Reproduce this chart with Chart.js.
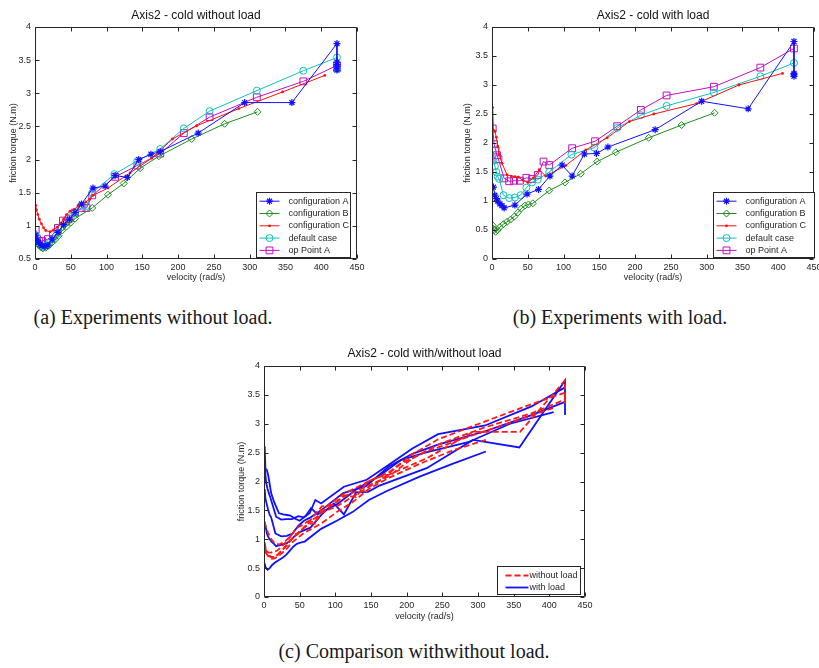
<!DOCTYPE html>
<html>
<head>
<meta charset="utf-8">
<script src="https://cdn.jsdelivr.net/npm/chart.js@4.4.1/dist/chart.umd.min.js"></script>
<style>
  html, body { margin: 0; padding: 0; background: #fff; overflow: hidden; }
  body { width: 819px; height: 668px; position: relative; }
  .plot { position: absolute; }
  .cap {
    position: absolute;
    font-family: "Liberation Serif", "DejaVu Serif", serif;
    font-size: 20px;
    color: #1a1a1a;
    white-space: nowrap;
    transform: translateX(-50%);
  }
</style>
</head>
<body>
<div class="plot" style="left:0;top:0;width:370px;height:295px"><canvas id="chartA"></canvas></div>
<div class="plot" style="left:455px;top:0;width:375px;height:295px"><canvas id="chartB"></canvas></div>
<div class="plot" style="left:228px;top:330px;width:370px;height:295px"><canvas id="chartC"></canvas></div>
<div class="cap" style="left:153px;top:306px">(a) Experiments without load.</div>
<div class="cap" style="left:620px;top:306px">(b) Experiments with load.</div>
<div class="cap" style="left:414px;top:640px">(c) Comparison withwithout load.</div>

<script>
// ---- data: velocity (rad/s) / friction torque (N.m) ----
const seriesNames = ["configuration A", "configuration B", "configuration C", "default case", "op Point A"];
const velocityTicks = [0, 50, 100, 150, 200, 250, 300, 350, 400, 450];

// without load
const noLoadAx = [1, 3, 5, 7, 10, 14, 18, 24, 32, 40, 48, 56, 65, 81, 98, 112, 129, 145, 162, 175, 228, 293, 359, 422, 422, 422, 422, 422];
const noLoadAy = [0.86, 0.79, 0.75, 0.72, 0.70, 0.69, 0.71, 0.80, 0.90, 1.02, 1.10, 1.20, 1.33, 1.57, 1.60, 1.76, 1.73, 2.00, 2.08, 2.12, 2.40, 2.86, 2.86, 3.75, 3.47, 3.43, 3.40, 3.35];
const noLoadBx = [2, 5, 8, 11, 15, 19, 23, 28, 33, 38, 44, 50, 56, 80, 102, 124, 147, 173, 219, 265, 311];
const noLoadBy = [0.78, 0.72, 0.68, 0.66, 0.67, 0.70, 0.74, 0.79, 0.85, 0.93, 0.99, 1.05, 1.11, 1.27, 1.47, 1.64, 1.87, 2.05, 2.31, 2.54, 2.72];
const noLoadCx = [1, 2, 4, 6, 9, 12, 15, 21, 26, 31, 36, 40, 44, 49, 55, 60, 66, 71, 76, 81, 102, 133, 163, 192, 226, 285, 346, 405];
const noLoadCy = [1.31, 1.24, 1.17, 1.10, 1.03, 0.97, 0.93, 0.91, 0.94, 0.98, 1.04, 1.10, 1.17, 1.22, 1.25, 1.30, 1.34, 1.36, 1.40, 1.46, 1.57, 1.80, 2.02, 2.31, 2.51, 2.77, 3.02, 3.27];
const noLoadDx = [1, 3, 5, 8, 11, 15, 20, 25, 31, 37, 44, 50, 56, 64, 72, 80, 111, 143, 175, 208, 244, 310, 375, 422, 422];
const noLoadDy = [0.86, 0.78, 0.73, 0.70, 0.68, 0.70, 0.74, 0.80, 0.88, 0.98, 1.06, 1.13, 1.20, 1.30, 1.30, 1.50, 1.78, 1.98, 2.16, 2.47, 2.73, 3.04, 3.34, 3.54, 3.37];
const noLoadEx = [1, 3, 6, 10, 18, 25, 32, 39, 47, 56, 65, 72, 80, 112, 143, 175, 208, 244, 310, 375, 422, 422];
const noLoadEy = [0.94, 0.80, 0.77, 0.77, 0.80, 0.87, 0.97, 1.08, 1.10, 1.20, 1.27, 1.27, 1.46, 1.74, 1.91, 2.09, 2.40, 2.64, 2.94, 3.18, 3.42, 3.38];

// with load
const loadAx = [2, 4, 6, 8, 11, 14, 17, 32, 49, 65, 81, 98, 112, 129, 146, 162, 228, 293, 358, 422, 422, 422, 422];
const loadAy = [1.24, 1.10, 1.04, 1.00, 0.95, 0.92, 0.88, 0.93, 1.12, 1.20, 1.43, 1.62, 1.43, 1.81, 1.82, 1.93, 2.23, 2.72, 2.59, 3.75, 3.20, 3.18, 3.15];
const loadBx = [1, 2, 3, 5, 8, 11, 16, 21, 26, 31, 36, 41, 46, 51, 57, 80, 102, 124, 147, 173, 219, 265, 311];
const loadBy = [0.58, 0.52, 0.50, 0.47, 0.50, 0.55, 0.60, 0.64, 0.68, 0.73, 0.80, 0.87, 0.92, 0.94, 0.96, 1.18, 1.32, 1.47, 1.68, 1.84, 2.09, 2.31, 2.52];
const loadCx = [1, 2, 4, 6, 8, 10, 14, 21, 27, 32, 37, 43, 50, 58, 66, 75, 103, 131, 161, 192, 226, 286, 345, 406];
const loadCy = [2.61, 2.22, 2.20, 2.10, 1.95, 1.80, 1.65, 1.45, 1.43, 1.42, 1.41, 1.36, 1.32, 1.40, 1.54, 1.43, 1.61, 1.88, 2.09, 2.37, 2.50, 2.68, 3.00, 3.20];
const loadDx = [1, 2, 4, 6, 8, 10, 16, 24, 32, 40, 48, 56, 64, 80, 111, 143, 175, 208, 244, 310, 375, 422];
const loadDy = [1.87, 1.70, 1.60, 1.50, 1.42, 1.38, 1.10, 1.05, 1.06, 1.10, 1.23, 1.32, 1.37, 1.50, 1.80, 1.92, 2.26, 2.48, 2.64, 2.87, 3.15, 3.38];
const loadEx = [1, 3, 5, 7, 9, 17, 24, 31, 39, 48, 56, 64, 72, 80, 112, 144, 175, 208, 244, 310, 375, 422];
const loadEy = [2.25, 1.98, 1.87, 1.79, 1.72, 1.39, 1.34, 1.35, 1.35, 1.40, 1.38, 1.45, 1.68, 1.62, 1.91, 2.03, 2.29, 2.57, 2.82, 2.97, 3.30, 3.63];

const noLoadX = [noLoadAx, noLoadBx, noLoadCx, noLoadDx, noLoadEx];
const noLoadY = [noLoadAy, noLoadBy, noLoadCy, noLoadDy, noLoadEy];
const loadX = [loadAx, loadBx, loadCx, loadDx, loadEx];
const loadY = [loadAy, loadBy, loadCy, loadDy, loadEy];

// matlab-ish line/marker styles per series
const styles = [
  { color: "#1010ff", pointStyle: "star", radius: 3.5, fill: "transparent", bw: 1.2 },
  { color: "#1e8c1e", pointStyle: "rectRot", radius: 3.5, fill: "transparent", bw: 1 },
  { color: "#ff1010", pointStyle: "circle", radius: 1.4, fill: "#ff1010", bw: 0 },
  { color: "#10c0c0", pointStyle: "circle", radius: 3.5, fill: "transparent", bw: 1 },
  { color: "#c010c0", pointStyle: "rect", radius: 4.8, fill: "transparent", bw: 1 }
];

const FONT = '"Liberation Sans", Arial, sans-serif';
const INK = "#262626";

function points(xs, ys) {
  return xs.map((x, i) => ({ x: x, y: ys[i] }));
}

function markerSets(xsList, ysList) {
  return xsList.map((xs, i) => ({
    label: seriesNames[i],
    data: points(xs, ysList[i]),
    showLine: true,
    borderColor: styles[i].color,
    borderWidth: 1,
    pointStyle: styles[i].pointStyle,
    pointRadius: styles[i].radius,
    pointBorderWidth: styles[i].bw,
    pointBorderColor: styles[i].color,
    pointBackgroundColor: styles[i].fill
  }));
}

function plainSets(xsList, ysList, label, color, dash) {
  return xsList.map((xs, i) => ({
    label: i === 0 ? label : "",
    data: points(xs, ysList[i]),
    showLine: true,
    borderColor: color,
    borderWidth: 1.8,
    borderDash: dash,
    pointRadius: 0
  }));
}

// box around the axes with inward tick marks (matlab style)
const frameTicks = {
  id: "frameTicks",
  afterDatasetsDraw(chart) {
    const { ctx, chartArea: a, scales } = chart;
    const L = Math.round(a.left) + 0.5, R = Math.round(a.right) - 0.5;
    const T = Math.round(a.top) + 0.5, B = Math.round(a.bottom) - 0.5;
    ctx.save();
    ctx.strokeStyle = INK;
    ctx.lineWidth = 1;
    ctx.beginPath();
    ctx.rect(L, T, R - L, B - T);
    scales.x.ticks.forEach(t => {
      const px = Math.round(scales.x.getPixelForValue(t.value)) + 0.5;
      ctx.moveTo(px, B); ctx.lineTo(px, B - 4);
      ctx.moveTo(px, T); ctx.lineTo(px, T + 4);
    });
    scales.y.ticks.forEach(t => {
      const py = Math.round(scales.y.getPixelForValue(t.value)) + 0.5;
      ctx.moveTo(L, py); ctx.lineTo(L + 4, py);
      ctx.moveTo(R, py); ctx.lineTo(R - 4, py);
    });
    ctx.stroke();
    ctx.restore();
  }
};

// legend box inside the lower right corner of the axes
const boxLegend = {
  id: "boxLegend",
  afterDraw(chart, args, o) {
    const { ctx, chartArea: a } = chart;
    const items = chart.data.datasets.filter(d => d.label);
    const left = Math.round(a.right - o.right - o.width) + 0.5;
    const top = Math.round(a.bottom - o.bottom - o.height) + 0.5;
    ctx.save();
    ctx.fillStyle = "#fff";
    ctx.fillRect(left, top, o.width, o.height);
    ctx.strokeStyle = INK;
    ctx.lineWidth = 1;
    ctx.strokeRect(left, top, o.width, o.height);
    ctx.font = "9px " + FONT;
    ctx.textBaseline = "middle";
    items.forEach((d, i) => {
      const cy = top + o.firstRow + i * o.rowGap;
      ctx.strokeStyle = d.borderColor;
      ctx.lineWidth = d.borderWidth;
      ctx.setLineDash(d.borderDash || []);
      ctx.beginPath();
      ctx.moveTo(left + o.lineFrom, cy);
      ctx.lineTo(left + o.lineTo, cy);
      ctx.stroke();
      ctx.setLineDash([]);
      if (d.pointRadius > 0 && Chart.helpers && Chart.helpers.drawPoint) {
        ctx.strokeStyle = d.pointBorderColor;
        ctx.fillStyle = d.pointBackgroundColor;
        ctx.lineWidth = d.pointBorderWidth;
        Chart.helpers.drawPoint(ctx, {
          pointStyle: d.pointStyle, radius: d.pointRadius,
          borderWidth: d.pointBorderWidth, rotation: 0
        }, left + (o.lineFrom + o.lineTo) / 2, cy);
      }
      ctx.fillStyle = INK;
      ctx.fillText(d.label, left + o.textX, cy);
    });
    ctx.restore();
  }
};

// matlab prints 1, 1.5, 2 ... not 1.0, 2.0
const plainNumber = v => String(Math.round(v * 100) / 100);

function makeChart(id, datasets, p) {
  const tickFont = { family: FONT, size: 9 };
  new Chart(document.getElementById(id), {
    type: "scatter",
    data: { datasets: datasets },
    plugins: [frameTicks, boxLegend],
    options: {
      responsive: true,
      maintainAspectRatio: false,
      animation: false,
      events: [],
      layout: { padding: { left: 0, right: p.padRight, top: 0, bottom: 0 } },
      plugins: {
        legend: { display: false },
        tooltip: { enabled: false },
        title: {
          display: true,
          text: p.title,
          fullSize: false,
          color: "#111",
          font: { family: FONT, size: 12, weight: "normal" },
          padding: { top: p.titleTop, bottom: p.titleBottom }
        },
        boxLegend: p.legend
      },
      scales: {
        x: {
          type: "linear",
          min: 0, max: 450,
          afterBuildTicks: s => { s.ticks = velocityTicks.map(v => ({ value: v })); },
          ticks: { color: INK, font: tickFont, padding: 3, callback: plainNumber },
          grid: { display: false, drawTicks: false },
          border: { display: false },
          title: {
            display: true, text: "velocity (rad/s)", color: INK,
            font: { family: FONT, size: 9 }, padding: { top: 0, bottom: p.xTitleBottom }
          },
          afterFit: s => { s.height = p.xHeight; }
        },
        y: {
          type: "linear",
          min: p.yMin, max: 4,
          ticks: { stepSize: 0.5, color: INK, font: tickFont, padding: 4, callback: plainNumber },
          grid: { display: false, drawTicks: false },
          border: { display: false },
          title: {
            display: true, text: "friction torque (N.m)", color: INK,
            font: { family: FONT, size: 9 }, padding: { top: p.yTitleTop, bottom: 0 }
          },
          afterFit: s => { s.width = p.yWidth; }
        }
      }
    }
  });
}

const bigLegend = { width: 94, height: 65, right: 7, bottom: 2, firstRow: 8.7, rowGap: 12.3, lineFrom: 3, lineTo: 23, textX: 32 };

makeChart("chartA", markerSets(noLoadX, noLoadY), {
  title: "Axis2 - cold without load", yMin: 0.5,
  padRight: 13, titleTop: 8, titleBottom: 4.6, xHeight: 36, xTitleBottom: 11.6, yWidth: 35, yTitleTop: 8.6,
  legend: bigLegend
});

makeChart("chartB", markerSets(loadX, loadY), {
  title: "Axis2 - cold with load", yMin: 0,
  padRight: 16, titleTop: 8, titleBottom: 4.6, xHeight: 36, xTitleBottom: 11.6, yWidth: 37, yTitleTop: 7.6,
  legend: Object.assign({}, bigLegend, { width: 101, right: 0 })
});

makeChart("chartC",
  plainSets(noLoadX, noLoadY, "without load", "#ff1a1a", [6, 3])
    .concat(plainSets(loadX, loadY, "with load", "#1010ff", [])), {
  title: "Axis2 - cold with/without load", yMin: 0,
  padRight: 13, titleTop: 16.8, titleBottom: 4.8, xHeight: 28, xTitleBottom: 2.6, yWidth: 36, yTitleTop: 8.6,
  legend: { width: 83, height: 28, right: 5, bottom: 3, firstRow: 9, rowGap: 12, lineFrom: 8, lineTo: 31, textX: 32 }
});
</script>
</body>
</html>
